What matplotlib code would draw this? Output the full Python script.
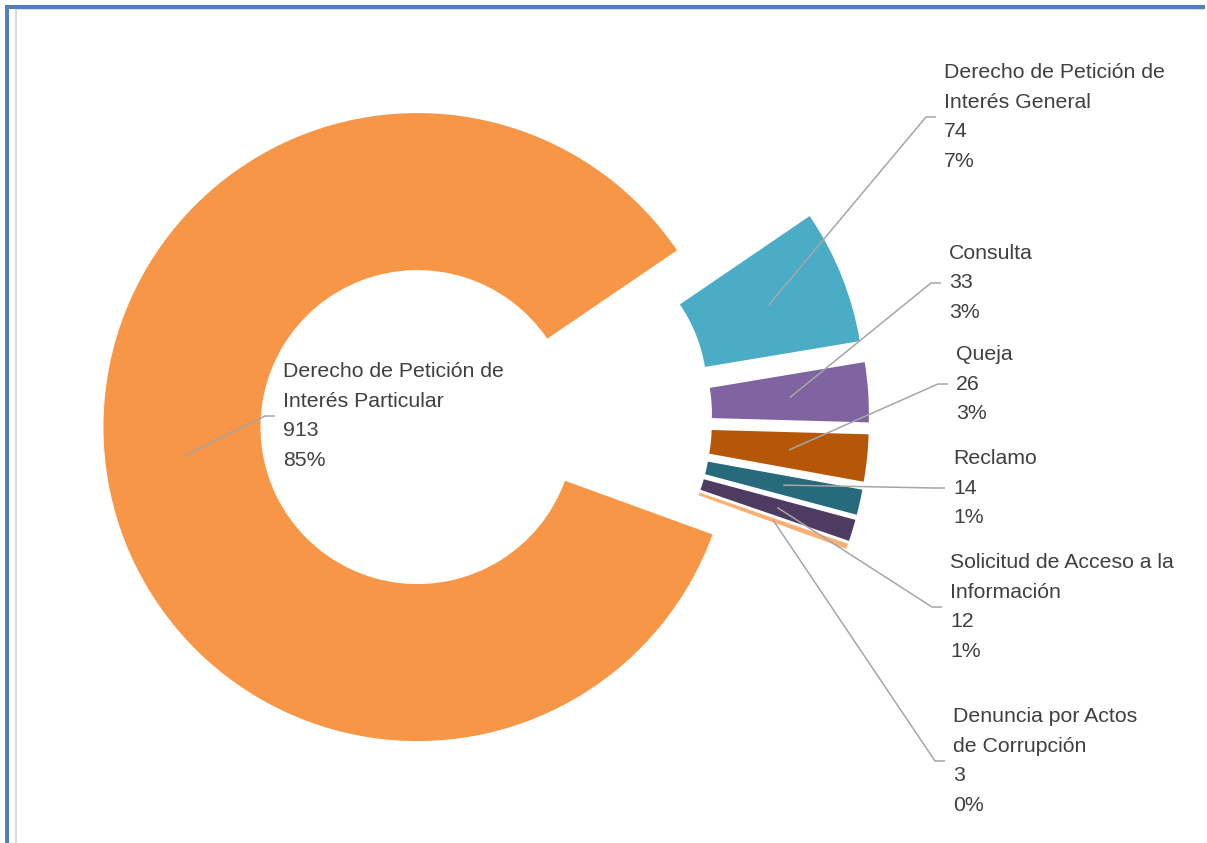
import math

import matplotlib
matplotlib.use('Agg')
import matplotlib.pyplot as plt
from matplotlib.patches import Rectangle

# datos del gráfico
categorias = [
    'Derecho de Petición de\nInterés Particular',
    'Derecho de Petición de\nInterés General',
    'Consulta',
    'Queja',
    'Reclamo',
    'Solicitud de Acceso a la\nInformación',
    'Denuncia por Actos\nde Corrupción',
]
valores = [913, 74, 33, 26, 14, 12, 3]
porcentajes = ['85%', '7%', '3%', '3%', '1%', '1%', '0%']
colores = ['#F79646', '#4BACC6', '#8064A2', '#B65708', '#276A7C', '#4D3B62', '#F9B074']

# geometría en píxeles (figura 1207x843)
W, H = 1207, 843
CX, CY, R = 486, 418.5, 314          # centro del pie y radio
# posición de cada etiqueta: (x izquierda, y centro) en píxeles
pos_etiquetas = [(283, 416), (944, 117), (949, 283), (956, 384),
                 (953, 488), (950, 607), (953, 761)]

TXT = '#404040'
GRIS = '#A6A6A6'
FUENTE = ['Liberation Sans Narrow', 'Liberation Sans', 'DejaVu Sans']


def px2d(px, py):
    """pixel (y hacia abajo) -> coordenadas de datos en unidades de radio"""
    return (px - CX) / R, (CY - py) / R


fig = plt.figure(figsize=(W / 100, H / 100), dpi=100)

# marco tipo Excel
frame = fig.add_axes([0, 0, 1, 1])
frame.set_xlim(0, W)
frame.set_ylim(H, 0)
frame.axis('off')
frame.add_patch(Rectangle((5, 5), 4, H, color='#4F81BD', lw=0))
frame.add_patch(Rectangle((5, 5), W - 7, 3.5, color='#4F81BD', lw=0))
frame.add_patch(Rectangle((15, 8.5), 1.5, H, color='#DADADA', lw=0))
frame.add_patch(Rectangle((15, 8.5), W - 17, 1.5, color='#DADADA', lw=0))

ax = fig.add_axes([0, 0, 1, 1])
ax.patch.set_alpha(0)
wedges, _ = ax.pie(valores, colors=colores, startangle=-20.0, counterclock=False,
                   explode=[0.22] * len(valores), radius=1.0,
                   wedgeprops=dict(width=0.5, linewidth=0))
ax.set_aspect('auto')
ax.set_xlim(-CX / R, (W - CX) / R)
ax.set_ylim(-(H - CY) / R, CY / R)
ax.axis('off')

for w, cat, val, pct, (lx, ly) in zip(wedges, categorias, valores, porcentajes, pos_etiquetas):
    mid = math.radians((w.theta1 + w.theta2) / 2)
    rm = w.r - w.width / 2
    x0 = w.center[0] + rm * math.cos(mid)
    y0 = w.center[1] + rm * math.sin(mid)
    ex, ey = px2d(lx - 18, ly)
    sx, sy = px2d(lx - 8, ly)
    ax.plot([x0, ex, sx], [y0, ey, sy], color=GRIS, lw=1.1, solid_capstyle='butt')
    tx, ty = px2d(lx, ly)
    ax.text(tx, ty, f'{cat}\n{val}\n{pct}', ha='left', va='center', color=TXT,
            fontsize=15.3, family=FUENTE, linespacing=1.7)

fig.savefig('out.png', dpi=100)
